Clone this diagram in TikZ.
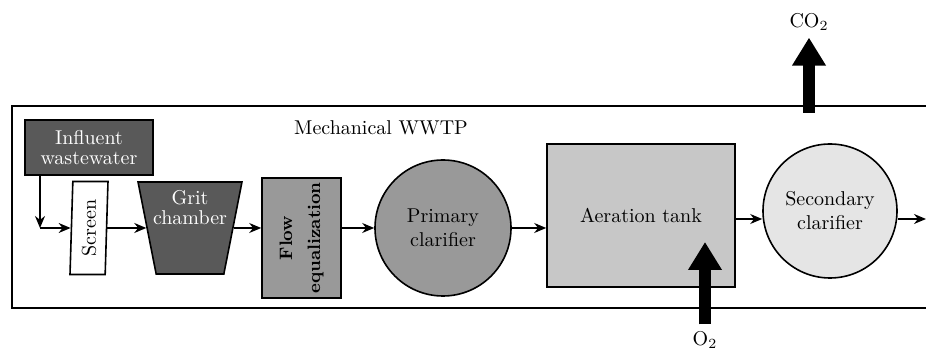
\documentclass[tikz,border=0pt]{standalone}
\usepackage{tikz}
\usepackage{amsmath}
\usetikzlibrary{shapes.geometric,arrows.meta}

\begin{document}
\begin{tikzpicture}[x=0.5pt,y=-0.5pt,
  box/.style={draw,line width=0.8pt},
  tank/.style={circle,draw,line width=0.8pt,align=center},
  flowline/.style={->,>={Stealth[length=6pt,width=5pt]},line width=0.7pt},
  gasarrow/.style={line width=6pt,-{Triangle[width=16pt,length=14pt]}}]
\useasboundingbox (0,0) rectangle (926,351);
\draw[line width=1pt] (926,106) -- (12,106) -- (12,308) -- (926,308);
\node (title) at (381,128) {Mechanical WWTP};
\node[box,fill=black!65,text=white,align=center,minimum width=64pt,minimum height=27.5pt] (infl) at (89,147.5) {Influent\\[-2pt]wastewater};
\node[box,fill=white,trapezium,trapezium left angle=85,trapezium right angle=95,trapezium stretches=true,minimum width=19pt,minimum height=46.5pt] (screen) at (89,228) {};
\node[rotate=90] at (screen) {Screen};
\node[box,fill=black!65,trapezium,trapezium left angle=105,trapezium right angle=105,trapezium stretches=true,minimum width=52pt,minimum height=46pt] (grit) at (190,228) {};
\node[text=white,align=center] at ([yshift=10pt]grit.center) {Grit\\[-2pt]chamber};
\node[box,fill=black!40,minimum width=39.5pt,minimum height=60pt] (floweq) at (301.5,238) {};
\node[rotate=90,font=\bfseries\fontsize{9}{11}\selectfont,align=center,inner sep=0pt] at (floweq) {Flow\\[3pt]equalization};
\node[tank,fill=black!40,minimum size=68pt] (prim) at (443,228) {Primary\\clarifier};
\node[box,fill=black!22,minimum width=94pt,minimum height=71.5pt] (aer) at (641,215.5) {Aeration tank};
\node[tank,fill=black!10,minimum size=67pt] (sec) at (830,211) {Secondary\\clarifier};
\coordinate (split) at (40,228);
\coordinate (out) at (926,219);
\draw[flowline] (infl.south -| split) -- (split);
\draw[flowline] (split) -- (screen.left side);
\draw[flowline] (screen.right side) -- (grit.left side);
\draw[flowline] (grit.right side) -- (grit.right side -| floweq.west);
\draw[flowline] (floweq.east |- prim) -- (prim.west);
\draw[flowline] (prim.east) -- (prim.east -| aer.west);
\draw[flowline] (aer.east |- out) -- (sec.west |- out);
\draw[flowline] (sec.east |- out) -- (out);
\node (o2) at (705,340) {O$_2$};
\coordinate (o2tip) at (705,242);
\draw[gasarrow] (o2) -- (o2tip);
\node (co2) at (809,22) {CO$_2$};
\coordinate (co2foot) at (809,113);
\draw[gasarrow] (co2foot) -- (co2);
\end{tikzpicture}
\end{document}
